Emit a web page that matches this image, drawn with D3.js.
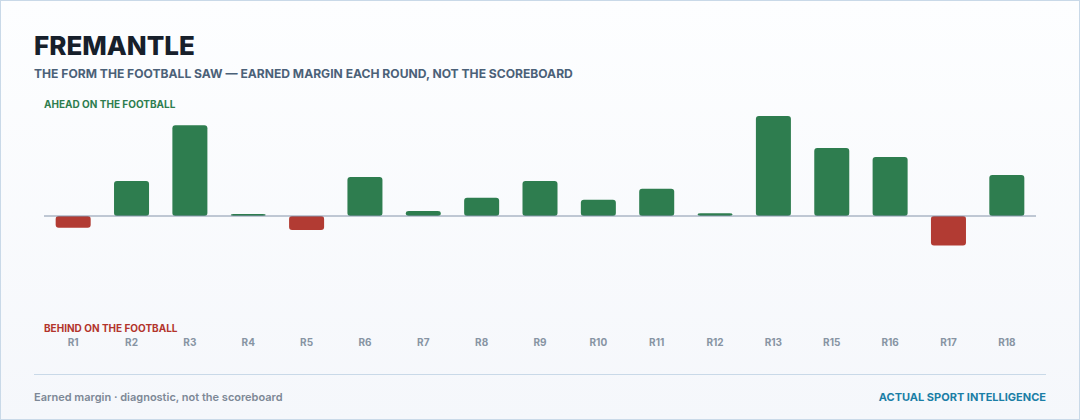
<!DOCTYPE html>
<html>
  <head>
    <meta charset="utf-8">
    <title>Fremantle earned margin</title>
    <style media="screen">
      body {margin:0; background:#fff}
      svg {display:block; font-family: Inter, "Noto Sans", sans-serif}
    </style>
  </head>
  <body>
    <script src="https://cdn.jsdelivr.net/npm/d3@7"></script>
    <script type="text/javascript">

    // earned margin per round (points)
    const rounds = ['R1','R2','R3','R4','R5','R6','R7','R8','R9','R10','R11','R12','R13','R15','R16','R17','R18']
    const margins = [-5.4, 16.2, 42, 0.9, -6.5, 18, 2.3, 8.5, 16.2, 7.5, 12.6, 1.3, 46.3, 31.5, 27.3, -13.7, 19]
    const yDomain = [-50, 50]

    const w = 1080, h = 420

    const svg = d3.select('body').append('svg')
      .attr('width', w)
      .attr('height', h)

    const defs = svg.append('defs')
    const grad = defs.append('linearGradient')
      .attr('id', 'bg').attr('x1', 0).attr('y1', 0).attr('x2', 0).attr('y2', 1)
    grad.append('stop').attr('offset', '0%').attr('stop-color', '#fdfeff')
    grad.append('stop').attr('offset', '100%').attr('stop-color', '#f5f7fb')

    svg.append('rect')
      .attr('x', 0.5).attr('y', 0.5)
      .attr('width', w - 1).attr('height', h - 1)
      .attr('fill', 'url(#bg)')
      .attr('stroke', '#c9d9e8')

    // header
    svg.append('text')
      .attr('x', 34).attr('y', 55)
      .attr('font-size', 26).attr('font-weight', 800)
      .attr('fill', '#17202b')
      .text('FREMANTLE')

    svg.append('text')
      .attr('x', 34).attr('y', 78)
      .attr('font-size', 12.1).attr('font-weight', 700)
      .attr('fill', '#4b6178')
      .text('THE FORM THE FOOTBALL SAW \u2014 EARNED MARGIN EACH ROUND, NOT THE SCOREBOARD')

    const x = d3.scaleBand()
      .domain(rounds)
      .range([44, 1036])
      .paddingInner(0.4)
      .paddingOuter(0.2)

    const y = d3.scaleLinear()
      .domain(yDomain)
      .range([324, 108])

    svg.append('text')
      .attr('x', 44).attr('y', 108)
      .attr('font-size', 10).attr('font-weight', 700)
      .attr('fill', '#2e7d4f')
      .text('AHEAD ON THE FOOTBALL')

    svg.append('text')
      .attr('x', 44).attr('y', 332)
      .attr('font-size', 10).attr('font-weight', 700)
      .attr('fill', '#b3342c')
      .text('BEHIND ON THE FOOTBALL')

    const data = rounds.map((r, i) => ({round: r, v: margins[i]}))

    svg.append('g').selectAll('rect')
      .data(data)
      .join('rect')
        .attr('x', d => x(d.round))
        .attr('width', x.bandwidth())
        .attr('y', d => Math.min(y(d.v), y(0)))
        .attr('height', d => Math.abs(y(d.v) - y(0)))
        .attr('rx', 3)
        .attr('fill', d => d.v >= 0 ? '#2e7d4f' : '#b23b33')

    svg.append('line')
      .attr('x1', 44).attr('x2', 1036)
      .attr('y1', y(0)).attr('y2', y(0))
      .attr('stroke', '#8494aa').attr('stroke-width', 1)

    // round labels
    const axis = svg.append('g')
      .attr('transform', 'translate(0,339)')
      .call(d3.axisBottom(x).tickSize(0).tickPadding(0))
    axis.select('.domain').remove()
    axis.selectAll('text')
      .attr('font-family', 'Inter, sans-serif')
      .attr('font-size', 10).attr('font-weight', 700)
      .attr('fill', '#8794a3')

    // footer
    svg.append('line')
      .attr('x1', 34).attr('x2', 1046)
      .attr('y1', 374.5).attr('y2', 374.5)
      .attr('stroke', '#c9d9e8')

    svg.append('text')
      .attr('x', 34).attr('y', 401)
      .attr('font-size', 11).attr('font-weight', 600)
      .attr('fill', '#7d8896')
      .text('Earned margin \u00b7 diagnostic, not the scoreboard')

    svg.append('text')
      .attr('x', 1046).attr('y', 401)
      .attr('text-anchor', 'end')
      .attr('font-size', 11).attr('font-weight', 700)
      .attr('fill', '#1b7ea6')
      .text('ACTUAL SPORT INTELLIGENCE')

    </script>
  </body>
</html>
